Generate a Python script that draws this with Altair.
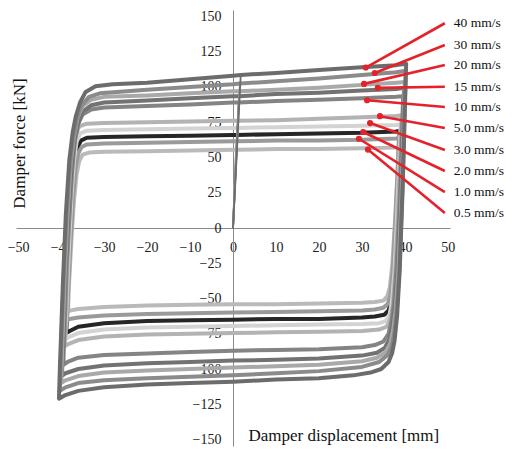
import altair as alt
import pandas as pd

# ---------------- data ----------------
series_names = ["40 mm/s", "30 mm/s", "20 mm/s", "15 mm/s", "10 mm/s",
                "5.0 mm/s", "3.0 mm/s", "2.0 mm/s", "1.0 mm/s", "0.5 mm/s"]
series_colors = ["#6c6c6c", "#8b8b8b", "#a9a9a9", "#727272", "#848484",
                 "#b3b3b3", "#d3d3d3", "#262626", "#9a9a9a", "#bababa"]

# hysteresis loops: (displacement mm, force kN), in recording order
loop_40 = [(0, 0), (1.8, 108.5), (10, 110), (20, 112), (30, 114), (38, 115.5), (40.3, 116.5),
           (40.1, 95), (39.5, 30), (38.8, -30), (38.2, -62), (37.6, -80), (37, -89), (36.2, -95),
           (34.5, -100), (32, -102.5), (28, -104.5), (20, -106.5), (10, -107.5), (0, -109),
           (-10, -110), (-20, -111), (-30, -113), (-36, -115.5), (-39, -118.5), (-40.5, -121),
           (-40.3, -100), (-39.6, -40), (-38.9, 10), (-38.1, 48), (-37.3, 68), (-36.6, 79),
           (-35.6, 89), (-34.3, 96.5), (-32, 100.5), (-28, 102), (-20, 103), (-10, 105.5),
           (0, 108), (1.8, 108.5)]
loop_30 = [(0, 0), (1.6, 102.5), (10, 104), (20, 106), (30, 108.5), (38, 110.5), (40.2, 111.5),
           (40, 90), (39.4, 25), (38.7, -30), (38.1, -58), (37.5, -75), (36.9, -84), (36, -90),
           (34, -95), (30, -98.5), (20, -101.5), (10, -103), (0, -104.5), (-10, -105.5),
           (-20, -106.5), (-30, -108), (-36, -110), (-39, -113), (-40.3, -115.5),
           (-40.1, -95), (-39.4, -35), (-38.7, 10), (-37.9, 45), (-37.1, 65), (-36.3, 78),
           (-35.2, 87), (-33.5, 93), (-31, 95.5), (-20, 98), (-10, 100), (0, 102), (1.6, 102.5)]
loop_20 = [(0, 0), (1.5, 97), (10, 98), (20, 99.5), (30, 101.5), (38, 103), (40, 103.5),
           (39.8, 85), (39.2, 20), (38.5, -30), (37.9, -57), (37.3, -72), (36.6, -82), (35.5, -88),
           (33.5, -92), (30, -94.5), (20, -97), (10, -98), (0, -99), (-10, -100), (-20, -101),
           (-30, -102.5), (-36, -105), (-39, -108), (-40, -110),
           (-39.8, -90), (-39.2, -35), (-38.5, 10), (-37.8, 45), (-37, 65), (-36.2, 78),
           (-35, 86.5), (-33, 91), (-30, 93), (-20, 94), (-10, 95.5), (0, 97), (1.5, 97)]
loop_15 = [(0, 0), (1.4, 93.5), (10, 95), (20, 96), (30, 97.5), (38, 98.5), (39.8, 99.5),
           (39.6, 80), (39, 20), (38.3, -30), (37.7, -55), (37.1, -69), (36.4, -79), (35.3, -85),
           (33.5, -88.5), (30, -90.5), (20, -92.5), (10, -93.5), (0, -94), (-10, -95), (-20, -96),
           (-30, -97.5), (-36, -100), (-39, -103), (-39.8, -105),
           (-39.6, -85), (-39, -30), (-38.3, 10), (-37.6, 42), (-36.9, 62), (-36.1, 74),
           (-35, 82.5), (-33, 87), (-30, 89), (-20, 90.5), (-10, 92), (0, 93.5), (1.4, 93.5)]
loop_10 = [(0, 0), (1.3, 89), (10, 90), (20, 91), (30, 92), (38, 93), (39.6, 93.5),
           (39.4, 75), (38.8, 20), (38.1, -25), (37.5, -52), (36.9, -66), (36.2, -75), (35, -80.5),
           (33, -83), (30, -84.5), (20, -86), (10, -86.5), (0, -87), (-10, -88), (-20, -89),
           (-30, -90), (-36, -92), (-38.5, -95), (-39.5, -97),
           (-39.3, -80), (-38.7, -25), (-38, 12), (-37.4, 42), (-36.8, 62), (-36, 74),
           (-35, 80.5), (-33, 84), (-30, 85.5), (-20, 86.5), (-10, 87.5), (0, 89), (1.3, 89)]
loop_5 = [(0, 0), (1.1, 76), (10, 76.5), (20, 77.5), (30, 78.5), (38, 79.5), (39.2, 80),
          (39, 60), (38.4, 10), (37.8, -30), (37.2, -55), (36.6, -65), (35.8, -70), (34, -72),
          (30, -73), (20, -73.5), (10, -74), (0, -74.5), (-10, -75), (-20, -75.5), (-30, -77),
          (-36, -79.5), (-38.5, -82.5), (-39.2, -84),
          (-39, -65), (-38.4, -15), (-37.8, 25), (-37.2, 52), (-36.6, 66), (-35.8, 72),
          (-34, 74), (-30, 74.5), (-20, 75), (-10, 75.5), (0, 76), (1.1, 76)]
loop_3 = [(0, 0), (1, 71), (10, 71.5), (20, 72), (30, 72.5), (38, 73), (39, 73.5),
          (38.8, 55), (38.2, 10), (37.6, -30), (37, -52), (36.4, -62), (35.6, -66), (34, -67.5),
          (30, -68), (20, -68.5), (10, -69), (0, -69.5), (-10, -70), (-20, -70.5), (-30, -72),
          (-36, -74.5), (-38.3, -77.5), (-39, -79),
          (-38.8, -60), (-38.2, -15), (-37.6, 22), (-37, 48), (-36.4, 61), (-35.6, 67),
          (-34, 69), (-30, 69.5), (-20, 70), (-10, 70.5), (0, 71), (1, 71)]
loop_2 = [(0, 0), (0.9, 66), (10, 66.5), (20, 67), (30, 67.5), (38, 68.5), (38.8, 69),
          (38.6, 50), (38, 5), (37.4, -32), (36.8, -52), (36.2, -58.5), (35.2, -61.5), (33, -62.8),
          (30, -63.5), (20, -64.5), (10, -64.5), (0, -65), (-10, -65.5), (-20, -66), (-30, -67.5),
          (-36, -70), (-38, -73), (-38.8, -74.5),
          (-38.6, -55), (-38, -12), (-37.4, 22), (-36.8, 45), (-36.2, 57), (-35.4, 62),
          (-34, 64), (-30, 64.5), (-20, 65), (-10, 65.5), (0, 66), (0.9, 66)]
loop_1 = [(0, 0), (0.8, 61.5), (10, 62), (20, 62), (30, 62.5), (38, 63.5), (38.6, 64),
          (38.4, 45), (37.8, 5), (37.2, -30), (36.6, -48), (36, -54), (35, -56.5), (33, -57.8),
          (30, -58.5), (20, -59), (10, -59.5), (0, -60), (-10, -60.5), (-20, -61), (-30, -62),
          (-36, -63.5), (-38, -64.5), (-38.6, -65.5),
          (-38.4, -48), (-37.8, -10), (-37.2, 22), (-36.6, 43), (-36, 53), (-35.2, 57.5),
          (-34, 59.3), (-30, 60), (-20, 60.5), (-10, 61), (0, 61.5), (0.8, 61.5)]
loop_05 = [(0, 0), (0.7, 55.5), (10, 56), (20, 56), (30, 56.5), (38, 57), (38.5, 57.5),
           (38.3, 40), (37.7, 5), (37.1, -25), (36.5, -42), (35.9, -48.5), (35, -51.5), (33, -52.5),
           (30, -53), (20, -53.5), (10, -54), (0, -54), (-10, -54.5), (-20, -55), (-30, -56),
           (-36, -57.5), (-38, -58.6), (-38.4, -59.5),
           (-38.2, -42), (-37.6, -8), (-37, 20), (-36.4, 38), (-35.8, 47.5), (-35, 52),
           (-33.5, 53.5), (-30, 54), (-20, 54.5), (-10, 55), (0, 55.5), (0.7, 55.5)]
loops = [loop_40, loop_30, loop_20, loop_15, loop_10, loop_5, loop_3, loop_2, loop_1, loop_05]

# annotation: marker on each curve and the label end of its leader line
dot_x = [30.9, 33.0, 30.5, 33.7, 31.2, 34.2, 31.9, 30.3, 29.3, 31.4]
dot_y = [113.8, 109.9, 102.2, 99.4, 90.6, 79.3, 74.4, 68.1, 63.3, 55.6]
label_y = [145.2, 129.8, 115.6, 100.2, 85.8, 70.9, 55.3, 40.4, 25.5, 10.6]
leader_x = 49.3
label_x = 51.4

x_ticks = [-50, -40, -30, -20, -10, 0, 10, 20, 30, 40, 50]
y_ticks = [-150, -125, -100, -75, -50, -25, 0, 25, 50, 75, 100, 125, 150]
x_domain = [-50.5, 50.5]
y_domain = [-154.6, 154.6]

x_title = "Damper displacement [mm]"
y_title = "Damper force [kN]"
x_title_pos = (25.8, -150.7)
y_title_pos = (-48.4, 59.9)

# ---------------- chart ----------------
FONT = "Liberation Serif"
RED = "#e3222a"
PLOT_W, PLOT_H = 434, 436

xs = alt.Scale(domain=x_domain, nice=False, zero=False)
ys = alt.Scale(domain=y_domain, nice=False, zero=False)
common_axis = dict(ticks=False, tickSize=0, grid=False, labelPadding=12, labelFlush=False,
                   labelOverlap=False, labelBound=False, domainColor="#8a8a8a", domainWidth=1,
                   labelFont=FONT, labelFontSize=14, labelColor="#1a1a1a", title=None)
x_axis = alt.Axis(values=x_ticks, offset=-PLOT_H / 2, **common_axis)
y_axis = alt.Axis(values=y_ticks, offset=-PLOT_W / 2, **common_axis)


def X(f="x"):
    return alt.X(f"{f}:Q", scale=xs, axis=x_axis, title=None)


def Y(f="y"):
    return alt.Y(f"{f}:Q", scale=ys, axis=y_axis, title=None)


rows = []
for name, pts in zip(series_names, loops):
    for i, (px, py) in enumerate(pts):
        part = "initial" if i < 2 else "loop"
        if i == 1:
            rows.append({"series": name, "part": "initial", "step": i, "x": px, "y": py})
            part = "loop"
        rows.append({"series": name, "part": part, "step": i, "x": px, "y": py})
loop_df = pd.DataFrame(rows)

# black (2.0 mm/s) lies underneath, fastest on top
draw_order = [7, 9, 8, 6, 5, 4, 3, 2, 1, 0]
layers = []
for k in draw_order:
    name = series_names[k]
    sub = loop_df[loop_df.series == name]
    layers.append(
        alt.Chart(sub[sub.part == "loop"])
        .mark_line(color=series_colors[k], strokeWidth=4, strokeJoin="round", strokeCap="round")
        .encode(x=X(), y=Y(), order="step:Q")
    )
for k in draw_order:
    name = series_names[k]
    sub = loop_df[loop_df.series == name]
    layers.append(
        alt.Chart(sub[sub.part == "initial"])
        .mark_line(color="#7a7a7a" if k == 7 else series_colors[k], strokeWidth=1.8,
                   strokeCap="round")
        .encode(x=X(), y=Y(), order="step:Q")
    )

ann_df = pd.DataFrame({"x": dot_x, "y": dot_y, "x2": [leader_x] * len(dot_x),
                       "y2": label_y, "lx": [label_x] * len(dot_x), "label": series_names})

layers.append(alt.Chart(ann_df).mark_rule(color=RED, strokeWidth=2.6)
              .encode(x=X(), y=Y(), x2="x2:Q", y2="y2:Q"))
layers.append(alt.Chart(ann_df).mark_circle(color=RED, size=38, opacity=1)
              .encode(x=X(), y=Y()))
layers.append(alt.Chart(ann_df).mark_text(font=FONT, fontSize=13.5, align="left",
                                          baseline="middle", color="#111111")
              .encode(x=X("lx"), y=Y("y2"), text="label:N"))

title_df_x = pd.DataFrame({"x": [x_title_pos[0]], "y": [x_title_pos[1]], "t": [x_title]})
title_df_y = pd.DataFrame({"x": [y_title_pos[0]], "y": [y_title_pos[1]], "t": [y_title]})
layers.append(alt.Chart(title_df_x).mark_text(font=FONT, fontSize=17, align="center",
                                              baseline="alphabetic", color="#111111")
              .encode(x=X(), y=Y(), text="t:N"))
layers.append(alt.Chart(title_df_y).mark_text(font=FONT, fontSize=17, align="center",
                                              baseline="alphabetic", angle=270, color="#111111")
              .encode(x=X(), y=Y(), text="t:N"))

chart = (
    alt.layer(*layers)
    .properties(width=PLOT_W, height=PLOT_H,
                autosize=alt.AutoSizeParams(type="none"),
                padding={"left": 8, "top": 2, "right": 56, "bottom": 1})
    .configure_view(stroke=None)
)

chart.save("out.html", embed_options={"renderer": "svg", "actions": False})
